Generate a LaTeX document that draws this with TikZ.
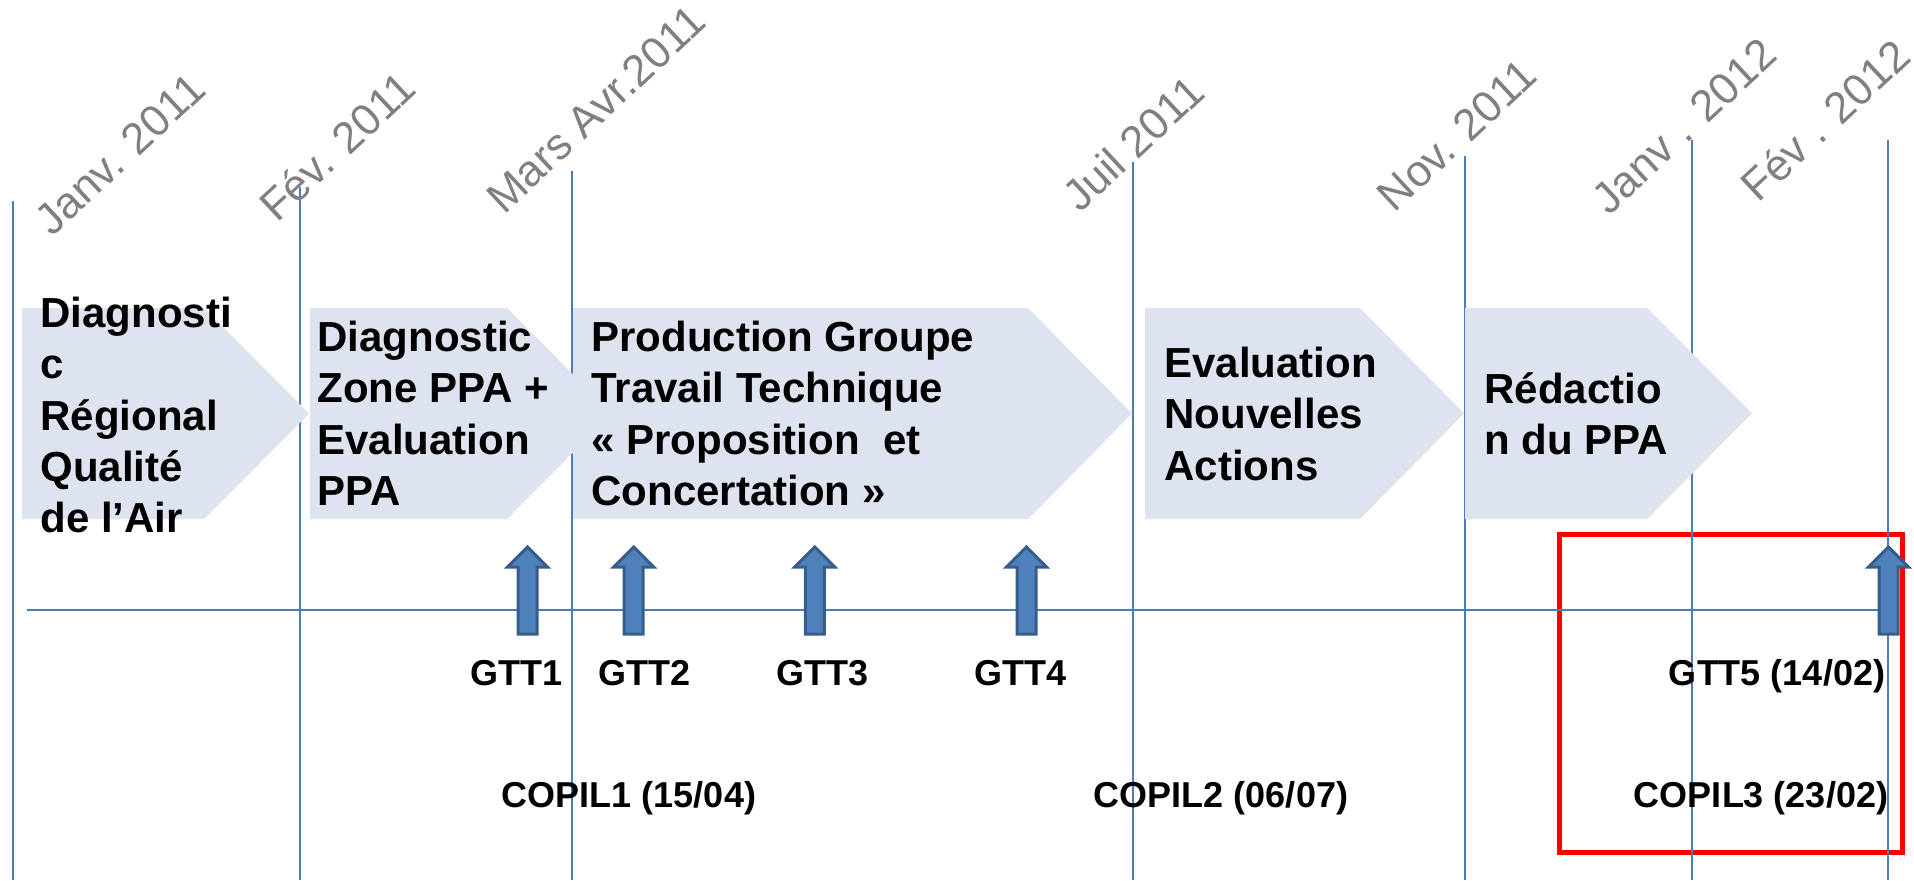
\documentclass[tikz,border=0pt]{standalone}
\usepackage{fontspec}
\setmainfont{Liberation Sans}
\definecolor{lineblue}{RGB}{74,126,187}
\definecolor{chevfill}{RGB}{222,227,240}
\definecolor{dategray}{RGB}{128,128,128}
\definecolor{arrowfill}{RGB}{79,129,189}
\definecolor{arrowdraw}{RGB}{56,93,138}
\definecolor{boxred}{RGB}{255,0,0}
\begin{document}
\begin{tikzpicture}[x=0.5pt,y=-0.5pt,
  grid/.style={draw=lineblue, line width=0.8pt},
  chev/.style={fill=chevfill, draw=none},
  chevtext/.style={anchor=north west, inner sep=0pt, align=left, font=\fontsize{21}{25.65}\selectfont\bfseries},
  datelbl/.style={rotate=43, text=dategray, inner sep=0pt, font=\fontsize{22}{26}\selectfont},
  mtglbl/.style={anchor=base, inner sep=0pt, font=\fontsize{18}{22}\selectfont\bfseries},
  blockarrow/.style={fill=arrowfill, draw=arrowdraw, line width=1.5pt, line join=miter}]

\useasboundingbox (0,0) rectangle (1914,880);

% red frame
\draw[boxred, line width=2.5pt] (1559,534) rectangle (1902,852);

% month grid lines
\foreach \gx/\gy [count=\i] in {13/201, 300/187, 572/171, 1133/162, 1465/156, 1692/140, 1888/140}{
  \coordinate (gt\i) at (\gx,\gy);
  \coordinate (gb\i) at (\gx,880);
  \draw[grid] (gt\i) -- (gb\i);
}

% time axis
\coordinate (axl) at (27,610);
\coordinate (axr) at (1888,610);
\draw[grid, line width=0.9pt] (axl) -- (axr);

% chevrons
\foreach \cx/\cn/\cp in {22/204/309, 310/507/612, 573/1028/1132, 1145/1360/1464, 1465/1647/1752}{
  \path[chev] (\cx,308) -- (\cn,308) -- (\cp,413.5) -- (\cn,519) -- (\cx,519) -- cycle;
}

% chevron texts
\node[chevtext] (t1) at (40,287) {\rule{0pt}{20pt}Diagnosti\\c\\Régional\\Qualité\\de l’Air};
\node[chevtext] (t2) at (317,311) {\rule{0pt}{20pt}Diagnostic\\Zone PPA +\\Evaluation\\PPA};
\node[chevtext] (t3) at (591,311) {\rule{0pt}{20pt}Production Groupe\\Travail Technique\\« Proposition\ \ et\\Concertation »};
\node[chevtext] (t4) at (1164,337) {\rule{0pt}{20pt}Evaluation\\Nouvelles\\Actions};
\node[chevtext] (t5) at (1484,363) {\rule{0pt}{20pt}Rédactio\\n du PPA};

% date labels
\node[datelbl] (d1) at (120,154) {Janv. 2011};
\node[datelbl] (d2) at (337,146) {Fév. 2011};
\node[datelbl] (d3) at (596,109) {Mars Avr.2011};
\node[datelbl] (d4) at (1133,143) {Juil 2011};
\node[datelbl] (d5) at (1457,135) {Nov. 2011};
\node[datelbl] (d6) at (1684,126) {Janv . 2012};
\node[datelbl] (d7) at (1825,120) {Fév . 2012};

% block arrows
\foreach \ax in {527.5, 633.7, 814.8, 1026.5, 1888.5}{
  \path[blockarrow, shift={(\ax,0)}] (0,547) -- (20,567) -- (9.5,567) -- (9.5,634)
     -- (-9.5,634) -- (-9.5,567) -- (-20,567) -- cycle;
}

% meeting labels
\node[mtglbl] (g1) at (516,685) {GTT1};
\node[mtglbl] (g2) at (644,685) {GTT2};
\node[mtglbl] (g3) at (822,685) {GTT3};
\node[mtglbl] (g4) at (1020,685) {GTT4};
\node[mtglbl] (g5) at (1777,685) {GTT5 (14/02)};
\node[mtglbl] (c1) at (629,807) {COPIL1 (15/04)};
\node[mtglbl] (c2) at (1221,807) {COPIL2 (06/07)};
\node[mtglbl] (c3) at (1761,807) {COPIL3 (23/02)};
\end{tikzpicture}
\end{document}
